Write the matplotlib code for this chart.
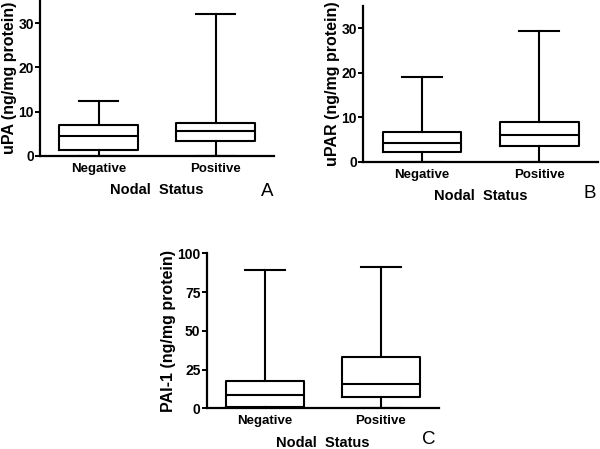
import matplotlib
matplotlib.use("Agg")
import matplotlib.pyplot as plt

plt.rcParams['font.family'] = ['Liberation Sans', 'DejaVu Sans']

groups = ["Negative", "Positive"]

# five-number summaries: min, Q1, median, Q3, max
upa_min = [0.0, 0.0]
upa_q1 = [1.4, 3.45]
upa_med = [4.4, 5.6]
upa_q3 = [7.0, 7.45]
upa_max = [12.3, 32.1]

upar_min = [0.0, 0.0]
upar_q1 = [2.3, 3.6]
upar_med = [4.2, 6.1]
upar_q3 = [6.7, 8.9]
upar_max = [19.0, 29.3]

pai_min = [0.0, 0.0]
pai_q1 = [1.0, 7.1]
pai_med = [8.6, 15.7]
pai_q3 = [17.4, 33.3]
pai_max = [89.0, 91.4]

upa_ticks = [0, 10, 20, 30]
upar_ticks = [0, 10, 20, 30]
pai_ticks = [0, 25, 50, 75, 100]


def make_stats(mins, q1s, meds, q3s, maxs):
    stats = []
    for i in range(len(groups)):
        stats.append(dict(whislo=mins[i], q1=q1s[i], med=meds[i],
                          q3=q3s[i], whishi=maxs[i], fliers=[]))
    return stats


def draw_panel(ax, stats, ylabel, yticks, ymax):
    lw = 1.5
    ax.bxp(stats, positions=[1, 2], widths=0.67, capwidths=0.34,
           showfliers=False, patch_artist=False,
           boxprops=dict(color='black', linewidth=lw),
           whiskerprops=dict(color='black', linewidth=lw),
           capprops=dict(color='black', linewidth=lw),
           medianprops=dict(color='black', linewidth=lw))
    ax.set_xlim(0.5, 2.5)
    ax.set_ylim(0, ymax)
    ax.set_yticks(yticks)
    ax.set_xticks([1, 2])
    ax.set_xticklabels(groups)
    for s in ['top', 'right']:
        ax.spines[s].set_visible(False)
    for s in ['left', 'bottom']:
        ax.spines[s].set_linewidth(1.6)
    ax.tick_params(axis='y', length=3.5, width=1.4, labelsize=10, pad=1)
    ax.tick_params(axis='x', length=0, labelsize=9.5, pad=5)
    for lab in ax.get_xticklabels() + ax.get_yticklabels():
        lab.set_fontweight('bold')
    ax.set_ylabel(ylabel, fontsize=11.5, fontweight='bold', labelpad=1)
    ax.set_xlabel("Nodal  Status", fontsize=10.5, fontweight='bold', labelpad=6)


fig = plt.figure(figsize=(6, 4.49), dpi=100)

ax_a = fig.add_axes([0.0667, 0.6526, 0.39, 0.3474])
draw_panel(ax_a, make_stats(upa_min, upa_q1, upa_med, upa_q3, upa_max),
           "uPA (ng/mg protein)", upa_ticks, 35.2)

ax_b = fig.add_axes([0.6055, 0.6392, 0.3912, 0.3474])
draw_panel(ax_b, make_stats(upar_min, upar_q1, upar_med, upar_q3, upar_max),
           "uPAR (ng/mg protein)", upar_ticks, 35)

ax_c = fig.add_axes([0.3445, 0.0906, 0.3872, 0.3453])
draw_panel(ax_c, make_stats(pai_min, pai_q1, pai_med, pai_q3, pai_max),
           "PAI-1 (ng/mg protein)", pai_ticks, 100)

fig.text(267 / 600, 1 - 192 / 449, "A", fontsize=13.5, ha='center', va='center')
fig.text(590 / 600, 1 - 193 / 449, "B", fontsize=13.5, ha='center', va='center')
fig.text(429 / 600, 1 - 440 / 449, "C", fontsize=13.5, ha='center', va='center')

fig.savefig("out.png", dpi=100)
